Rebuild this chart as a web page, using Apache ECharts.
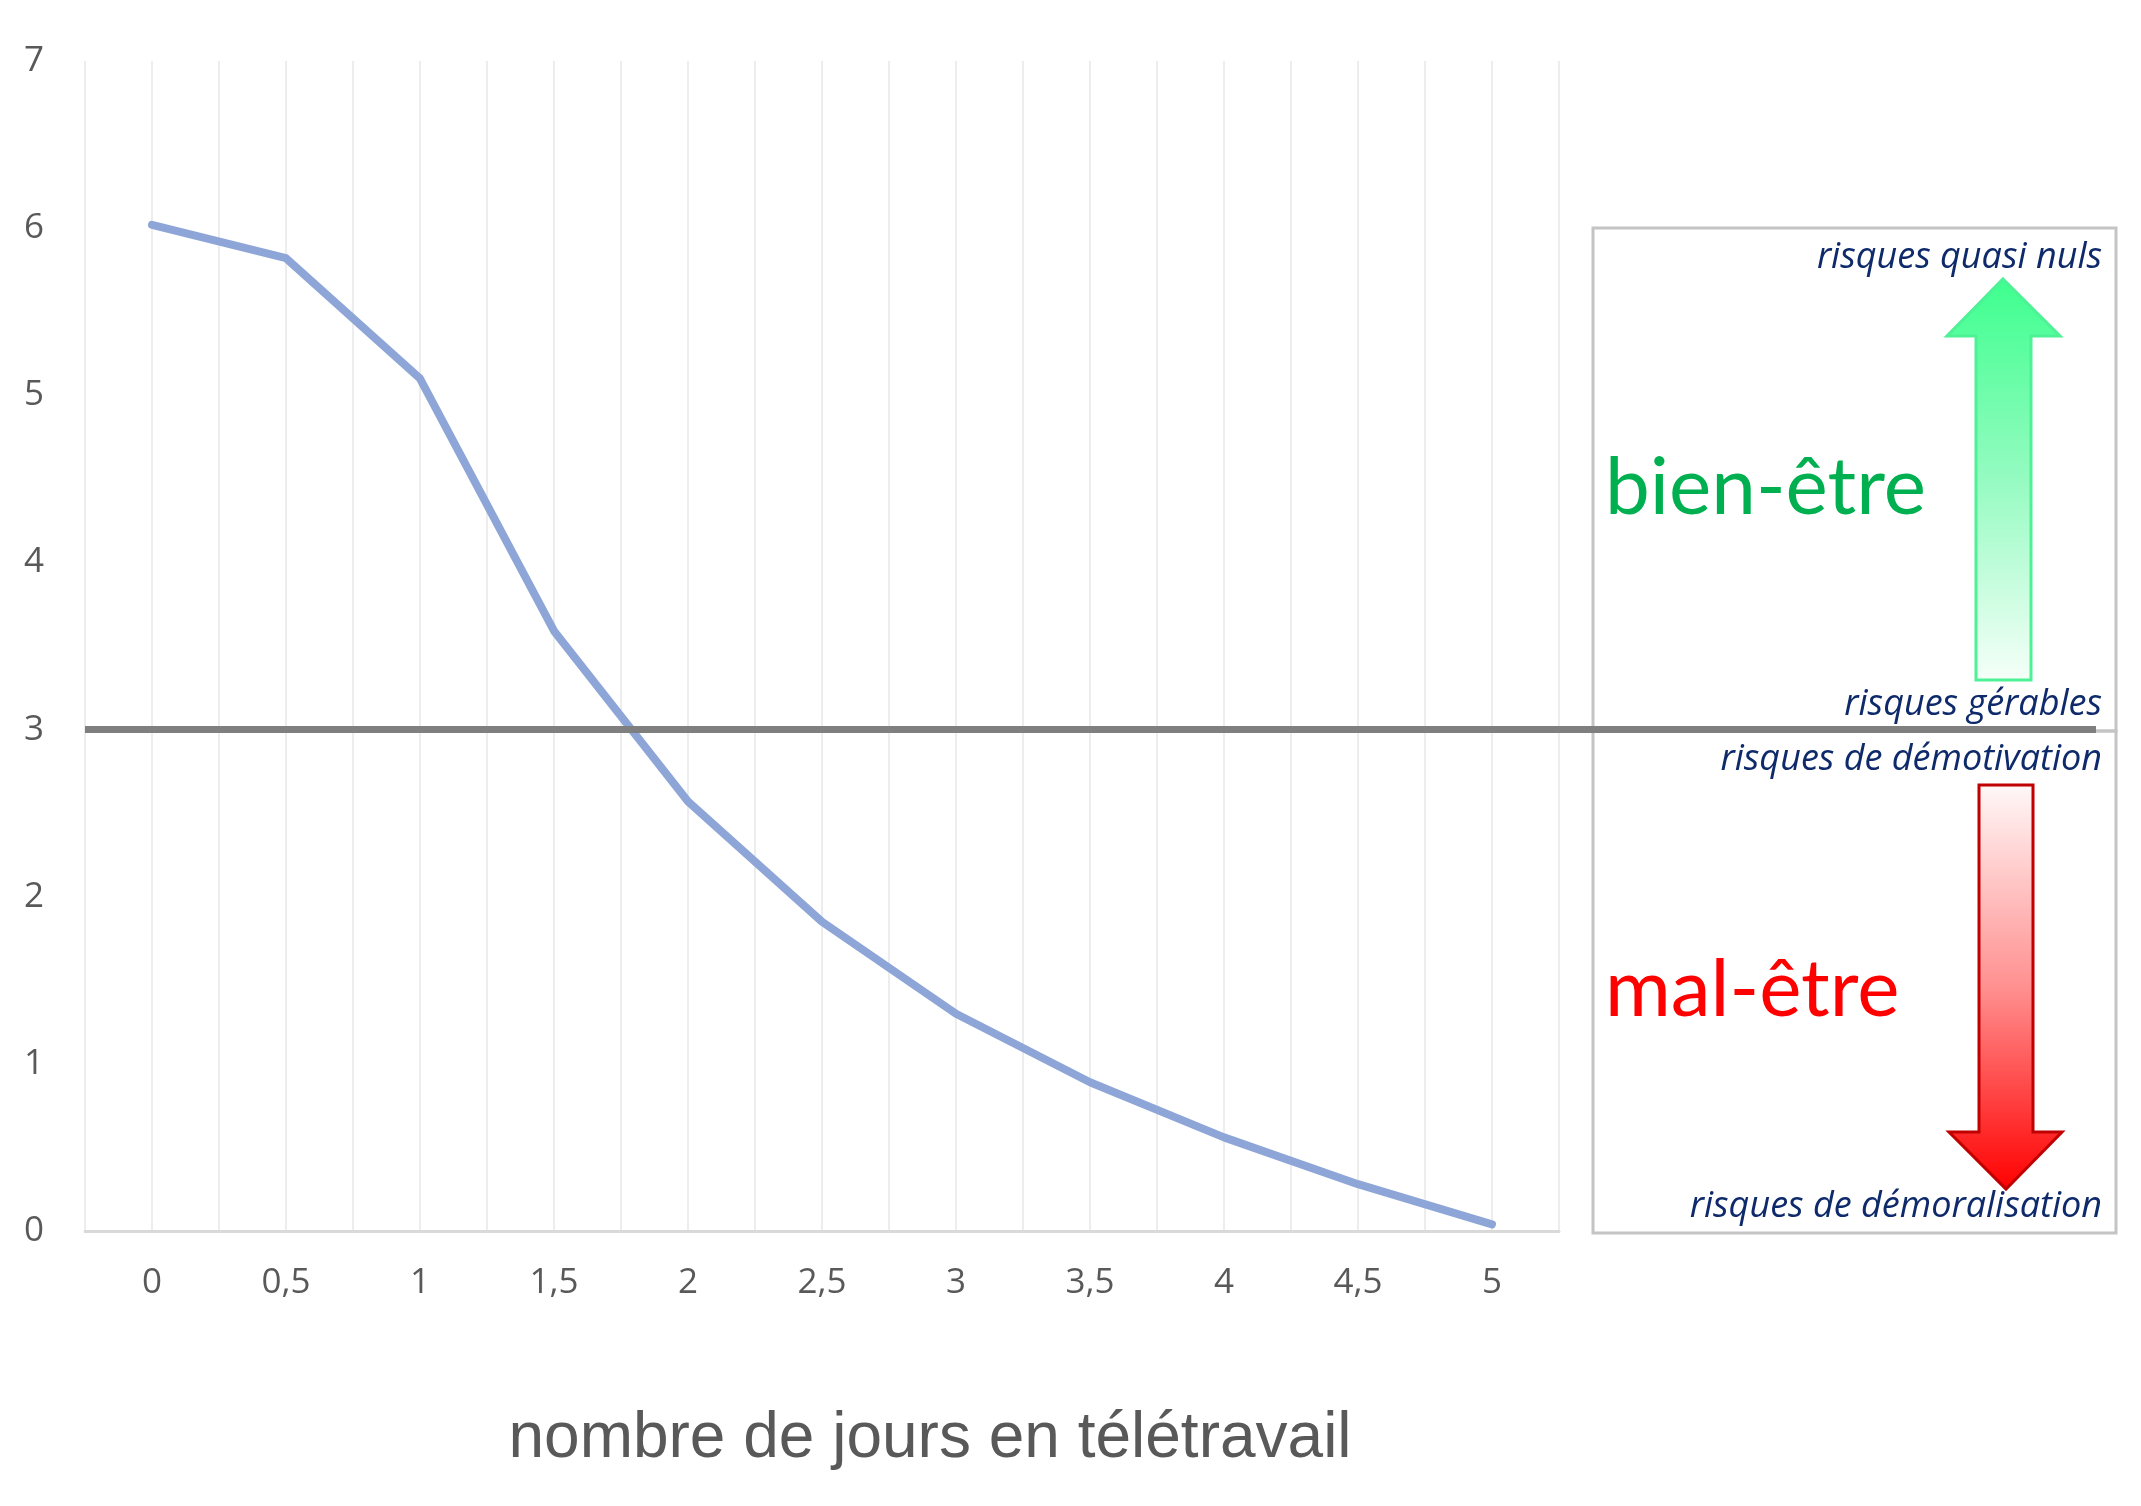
<!DOCTYPE html>
<html>
<head>
<meta charset="utf-8">
<script src="https://cdn.jsdelivr.net/npm/echarts@6/dist/echarts.min.js"></script>
<style>
html,body{margin:0;padding:0;background:#fff;}
#chart{width:2141px;height:1506px;}
</style>
</head>
<body>
<div id="chart"></div>
<script>
// ---- data ----
const categories = ['0', '0,5', '1', '1,5', '2', '2,5', '3', '3,5', '4', '4,5', '5'];
const wellbeing = [6.02, 5.82, 5.10, 3.59, 2.57, 1.85, 1.30, 0.89, 0.56, 0.28, 0.04];
const yMin = 0, yMax = 7, yStep = 1;
const threshold = 3;
const axisTitle = 'nombre de jours en télétravail';
const topWord = 'bien-être';
const bottomWord = 'mal-être';
const riskLabels = ['risques quasi nuls', 'risques gérables', 'risques de démotivation', 'risques de démoralisation'];

// ---- chart ----
const chart = echarts.init(document.getElementById('chart'));
const navy = '#0E2A6B';
const smallFont = {fontFamily: 'Open Sans', fontStyle: 'italic', fontSize: 36, fill: navy};

const option = {
  animation: false,
  backgroundColor: '#ffffff',
  grid: [
    {left: 85, right: 582, top: 61, bottom: 275},
    {left: 85, right: 45, top: 61, bottom: 275}
  ],
  xAxis: [
    {
      type: 'category', gridIndex: 0, data: categories, boundaryGap: true,
      axisLine: {lineStyle: {color: '#d9d9d9', width: 3}},
      axisTick: {length: 14, lineStyle: {color: '#d9d9d9', width: 2}},
      axisLabel: {color: '#595959', fontSize: 35, fontFamily: 'Open Sans', margin: 35},
      splitLine: {show: false}
    },
    {
      type: 'value', gridIndex: 0, min: -0.25, max: 5.25, interval: 0.25, position: 'top',
      axisLine: {show: false}, axisTick: {show: false}, axisLabel: {show: false},
      splitLine: {show: true, lineStyle: {color: '#ededed', width: 2}}
    },
    {type: 'value', gridIndex: 1, min: 0, max: 1, show: false}
  ],
  yAxis: [
    {
      type: 'value', gridIndex: 0, min: yMin, max: yMax, interval: yStep,
      axisLine: {show: false}, axisTick: {show: false}, splitLine: {show: false},
      axisLabel: {color: '#595959', fontSize: 35, fontFamily: 'Open Sans', margin: 41}
    },
    {type: 'value', gridIndex: 1, min: yMin, max: yMax, show: false}
  ],
  series: [
    {
      type: 'line', xAxisIndex: 0, yAxisIndex: 0, data: wellbeing, symbol: 'none',
      lineStyle: {color: '#8EA6D7', width: 8, cap: 'round', join: 'round'}, z: 3
    },
    {
      type: 'line', xAxisIndex: 2, yAxisIndex: 1, data: [[0, threshold], [1, threshold]], symbol: 'none',
      lineStyle: {color: '#7f7f7f', width: 7}, z: 4
    }
  ],
  graphic: [
    {type: 'rect', z: 1, shape: {x: 1593, y: 228, width: 523, height: 503}, style: {fill: 'none', stroke: '#c4c4c4', lineWidth: 3}},
    {type: 'rect', z: 1, shape: {x: 1593, y: 731, width: 523, height: 502}, style: {fill: 'none', stroke: '#c4c4c4', lineWidth: 3}},
    {
      type: 'polygon', z: 2,
      shape: {points: [[2003, 279], [2060, 336], [2031, 336], [2031, 680], [1976, 680], [1976, 336], [1947, 336]]},
      style: {
        fill: {type: 'linear', x: 0, y: 0, x2: 0, y2: 1, colorStops: [
          {offset: 0, color: '#3DFF8E'}, {offset: 0.5, color: '#95FBC1'}, {offset: 1, color: '#F6FFF9'}]},
        stroke: '#4DF295', lineWidth: 3
      }
    },
    {
      type: 'polygon', z: 2,
      shape: {points: [[1979, 785], [2033, 785], [2033, 1132], [2062, 1132], [2006, 1189], [1949, 1132], [1979, 1132]]},
      style: {
        fill: {type: 'linear', x: 0, y: 0, x2: 0, y2: 1, colorStops: [
          {offset: 0, color: '#FFF8F8'}, {offset: 0.5, color: '#FF9090'}, {offset: 1, color: '#FF0000'}]},
        stroke: '#C00000', lineWidth: 3
      }
    },
    {type: 'text', z: 5, style: Object.assign({x: 2102, y: 258, text: riskLabels[0], textAlign: 'right', textVerticalAlign: 'middle'}, smallFont)},
    {type: 'text', z: 5, style: Object.assign({x: 2102, y: 705, text: riskLabels[1], textAlign: 'right', textVerticalAlign: 'middle'}, smallFont)},
    {type: 'text', z: 5, style: Object.assign({x: 2102, y: 760, text: riskLabels[2], textAlign: 'right', textVerticalAlign: 'middle'}, smallFont)},
    {type: 'text', z: 5, style: Object.assign({x: 2102, y: 1207, text: riskLabels[3], textAlign: 'right', textVerticalAlign: 'middle'}, smallFont)},
    {type: 'text', z: 5, style: {x: 1605, y: 488, text: topWord, textAlign: 'left', textVerticalAlign: 'middle', fontFamily: 'Lato', fontSize: 80, fill: '#00B050'}},
    {type: 'text', z: 5, style: {x: 1605, y: 990, text: bottomWord, textAlign: 'left', textVerticalAlign: 'middle', fontFamily: 'Lato', fontSize: 80, fill: '#FF0000'}},
    {type: 'text', z: 5, style: {x: 930, y: 1439, text: axisTitle, textAlign: 'center', textVerticalAlign: 'middle', fontFamily: 'Liberation Sans', fontSize: 64, fill: '#595959'}}
  ]
};
chart.setOption(option);
</script>
</body>
</html>
